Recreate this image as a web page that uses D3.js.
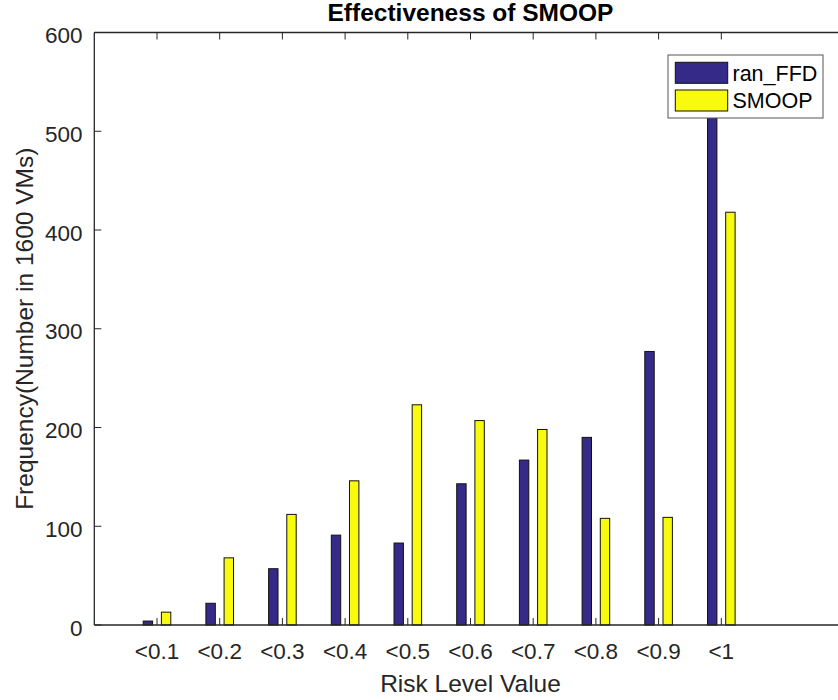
<!DOCTYPE html>
<html>
<head>
<meta charset="utf-8">
<script src="https://cdn.jsdelivr.net/npm/d3@7"></script>
<style>
  html, body { margin: 0; padding: 0; background: #fff; }
  svg { display: block; font-family: "Liberation Sans", Arial, Helvetica, sans-serif; }
</style>
</head>
<body>
<svg id="chart" width="838" height="700"></svg>
<script>
// Risk level bins and the number of VMs (out of 1600) falling in each
const categories = ["<0.1", "<0.2", "<0.3", "<0.4", "<0.5", "<0.6", "<0.7", "<0.8", "<0.9", "<1"];
const ranFFD = [4, 22, 57, 91, 83, 143, 167, 190, 277, 540];
const smoop  = [13, 68, 112, 146, 223, 207, 198, 108, 109, 418];
const seriesNames = ["ran_FFD", "SMOOP"];
const seriesColors = ["#352a87", "#f9fb0e"];
const yTicks = [0, 100, 200, 300, 400, 500, 600];

const svg = d3.select("#chart");
const W = 838, H = 700;
const plotLeft = 94.3, plotTop = 32.5, plotBottom = 625;
const axisColor = "#262626";

// x positions: category i sits at i+1 on a [0, 12] axis
const x = d3.scaleLinear().domain([0, 12]).range([plotLeft, plotLeft + 12 * 62.7]);
const y = d3.scaleLinear().domain([0, 600]).range([plotBottom, plotTop]);
const cx = (x(0) + x(12)) / 2;

const barW = 0.15;     // bar width in axis units
const offset = 0.145;  // half distance between paired bars

const series = [ranFFD, smoop];

// bars
series.forEach((vals, s) => {
  svg.append("g").selectAll("rect")
    .data(vals)
    .join("rect")
    .attr("x", (d, i) => x(i + 1 + (s === 0 ? -offset : offset) - barW / 2))
    .attr("y", d => y(d))
    .attr("width", x(barW) - x(0))
    .attr("height", d => y(0) - y(d))
    .attr("fill", seriesColors[s])
    .attr("stroke", "#111")
    .attr("stroke-width", 1);
});

// axes: left, bottom, top lines with inward ticks
const axes = svg.append("g").attr("stroke", axisColor).attr("fill", "none");
axes.append("line").attr("x1", plotLeft).attr("x2", plotLeft).attr("y1", plotTop).attr("y2", plotBottom).attr("stroke-width", 1.3);
axes.append("line").attr("x1", plotLeft).attr("x2", W).attr("y1", plotBottom).attr("y2", plotBottom).attr("stroke-width", 1.3);
axes.append("line").attr("x1", plotLeft).attr("x2", W).attr("y1", plotTop).attr("y2", plotTop).attr("stroke-width", 1.3);

yTicks.forEach(t => {
  axes.append("line").attr("x1", plotLeft).attr("x2", plotLeft + 7).attr("y1", y(t)).attr("y2", y(t));
});
categories.forEach((c, i) => {
  axes.append("line").attr("x1", x(i + 1)).attr("x2", x(i + 1)).attr("y1", plotBottom).attr("y2", plotBottom - 7);
  axes.append("line").attr("x1", x(i + 1)).attr("x2", x(i + 1)).attr("y1", plotTop).attr("y2", plotTop + 7);
});

// tick labels
svg.append("g").selectAll("text")
  .data(yTicks)
  .join("text")
  .attr("x", 82.5)
  .attr("y", d => y(d) + 10.5)
  .attr("text-anchor", "end")
  .attr("font-size", 22.5)
  .attr("fill", axisColor)
  .text(d => d);

svg.append("g").selectAll("text")
  .data(categories)
  .join("text")
  .attr("x", (d, i) => x(i + 1))
  .attr("y", 659)
  .attr("text-anchor", "middle")
  .attr("font-size", 22.5)
  .attr("fill", axisColor)
  .text(d => d);

// titles
svg.append("text").attr("x", cx).attr("y", 21).attr("text-anchor", "middle")
  .attr("font-size", 24.5).attr("font-weight", "bold").attr("fill", "#000")
  .text("Effectiveness of SMOOP");
svg.append("text").attr("x", cx).attr("y", 691.5).attr("text-anchor", "middle")
  .attr("font-size", 24.5).attr("fill", axisColor)
  .text("Risk Level Value");
svg.append("text")
  .attr("transform", `translate(33, ${(plotTop + plotBottom) / 2}) rotate(-90)`)
  .attr("text-anchor", "middle")
  .attr("font-size", 24.5).attr("fill", axisColor)
  .text("Frequency(Number in 1600 VMs)");

// legend
const lg = svg.append("g").attr("transform", "translate(668,55)");
lg.append("rect").attr("width", 155).attr("height", 63)
  .attr("fill", "#fff").attr("stroke", "#555").attr("stroke-width", 1);
seriesNames.forEach((n, k) => {
  lg.append("rect").attr("x", 7.3).attr("y", 7.3 + k * 27.7).attr("width", 52.4).attr("height", 21)
    .attr("fill", seriesColors[k]).attr("stroke", "#111");
  lg.append("text").attr("x", 64.5).attr("y", 25.7 + k * 27.7)
    .attr("font-size", 21.5).attr("fill", "#000").text(n);
});
</script>
</body>
</html>
